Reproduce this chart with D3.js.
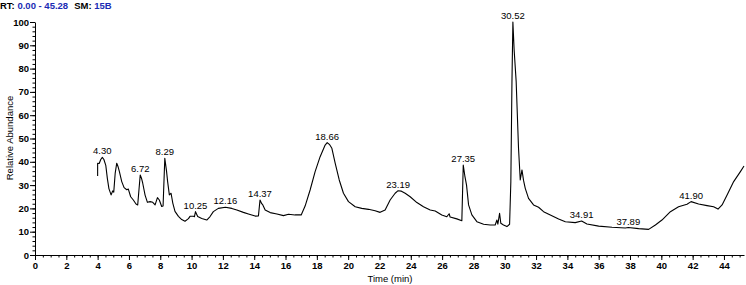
<!DOCTYPE html>
<html>
<head>
<meta charset="utf-8">
<script src="https://cdn.jsdelivr.net/npm/d3@7"></script>
<style>
  body { margin: 0; background: #fff; }
  svg { display: block; font-family: "Liberation Sans", Arial, sans-serif; }
  .axis path, .axis line { stroke: #000; stroke-width: 1; }
  .axis text { font-size: 9.5px; font-weight: bold; fill: #000; }
</style>
</head>
<body>
<svg width="746" height="285"></svg>
<script>
// retention time (min) and relative abundance
var time = [4.00, 4.00, 4.10, 4.20, 4.30, 4.40, 4.52, 4.62, 4.72, 4.86, 4.96, 5.03, 5.12, 5.22, 5.30,
  5.39, 5.54, 5.69, 5.86, 5.96, 6.11, 6.28, 6.45, 6.56, 6.64, 6.72, 6.80, 6.88, 7.03, 7.18, 7.35,
  7.52, 7.67, 7.82, 7.94, 8.09, 8.18, 8.29, 8.40, 8.47, 8.58, 8.69, 8.80, 8.94, 9.16, 9.37, 9.58,
  9.80, 9.90, 10.12, 10.18, 10.25, 10.39, 10.65, 10.97, 11.18, 11.39, 11.71, 12.16, 12.57, 12.89,
  13.31, 13.63, 14.06, 14.27, 14.37, 14.48, 14.55, 14.70, 15.02, 15.45, 15.87, 16.19, 16.61, 17.00,
  17.25, 17.57, 17.89, 18.21, 18.53, 18.66, 18.80, 18.96, 19.17, 19.43, 19.70, 20.02, 20.45, 20.87,
  21.30, 21.72, 22.04, 22.36, 22.68, 23.00, 23.19, 23.40, 23.64, 23.96, 24.39, 24.81, 25.24, 25.56,
  25.98, 26.30, 26.45, 26.51, 26.94, 27.26, 27.35, 27.45, 27.56, 27.69, 27.90, 28.22, 28.65, 29.07,
  29.39, 29.50, 29.56, 29.67, 29.75, 29.92, 30.14, 30.31, 30.39, 30.46, 30.52, 30.60, 30.73, 30.88,
  30.99, 31.10, 31.20, 31.31, 31.52, 31.84, 32.16, 32.48, 32.91, 33.44, 33.87, 34.50, 34.91, 35.25,
  36.00, 36.85, 37.70, 37.89, 38.55, 39.19, 39.62, 40.04, 40.58, 41.10, 41.64, 41.90, 42.38, 42.92,
  43.34, 43.62, 43.88, 44.20, 44.62, 45.05, 45.28];
var abundance = [33.9, 39.4, 39.3, 41.0, 41.9, 41.0, 38.5, 32.9, 28.5, 25.8, 27.5, 27.0, 35.0, 39.4, 38.0,
  35.8, 31.5, 28.9, 28.0, 28.3, 25.0, 23.6, 21.9, 21.5, 28.0, 34.3, 33.0, 30.8, 25.7, 22.6, 22.9,
  22.6, 21.5, 24.6, 23.6, 20.8, 21.0, 41.5, 36.0, 31.5, 25.8, 26.5, 22.3, 18.7, 16.6, 15.2, 14.5,
  15.6, 16.6, 16.6, 16.4, 18.6, 16.5, 15.7, 15.0, 16.5, 18.6, 20.0, 20.5, 20.0, 19.3,
  18.3, 17.6, 16.7, 16.8, 23.6, 22.0, 21.5, 19.3, 18.2, 17.6, 16.9, 17.5, 17.2, 17.2,
  21.0, 27.9, 35.8, 42.2, 47.2, 48.2, 47.5, 45.8, 39.4, 32.2, 26.5, 22.9, 20.7, 20.0,
  19.6, 19.0, 18.3, 19.3, 23.6, 26.5, 27.6, 27.4, 26.5, 25.0, 22.5, 20.7, 19.3, 18.9,
  17.2, 16.4, 17.7, 16.3, 15.5, 14.7, 38.6, 34.0, 30.0, 21.5, 17.2, 14.3, 13.2, 12.9,
  12.9, 15.0, 13.2, 17.9, 13.6, 12.9, 12.2, 13.2, 31.5, 74.0, 100, 88.0, 74.4, 45.8,
  32.2, 36.5, 32.0, 28.6, 24.3, 21.5, 20.5, 18.6, 17.2, 15.5, 14.3, 13.9, 14.6, 13.3,
  12.4, 11.9, 11.6, 11.8, 11.3, 11.0, 12.9, 15.0, 18.6, 20.7, 21.8, 22.9, 21.9, 21.2,
  20.7, 19.7, 21.5, 25.8, 31.5, 35.8, 38.2];
var peakLabels = ["4.30", "6.72", "8.29", "10.25", "12.16", "14.37", "18.66", "23.19", "27.35",
  "30.52", "34.91", "37.89", "41.90"];
var xTicks = d3.range(0, 45, 2);
var yTicks = d3.range(0, 101, 10);

var svg = d3.select("svg");
var x = d3.scaleLinear().domain([0, 45.28]).range([35, 744]);
var y = d3.scaleLinear().domain([0, 100]).range([255, 22]);

// minor ticks first, majors drawn on top
svg.append("g").attr("class", "axis")
    .attr("transform", "translate(0,255)")
    .call(d3.axisBottom(x).tickValues(d3.range(0, 45.28, 0.5)).tickSize(2.5).tickFormat(""))
    .select(".domain").remove();
svg.append("g").attr("class", "axis")
    .attr("transform", "translate(35,0)")
    .call(d3.axisLeft(y).tickValues(d3.range(0, 101, 2)).tickSize(2.5).tickFormat(""))
    .select(".domain").remove();

svg.append("g").attr("class", "axis")
    .attr("transform", "translate(0,255)")
    .call(d3.axisBottom(x).tickValues(xTicks).tickSize(5).tickSizeOuter(0).tickPadding(2).tickFormat(d3.format("d")));
svg.append("g").attr("class", "axis")
    .attr("transform", "translate(35,0)")
    .call(d3.axisLeft(y).tickValues(yTicks).tickSize(5).tickSizeOuter(0).tickPadding(1).tickFormat(d3.format("d")));

var pts = time.map((t, i) => [t, abundance[i]]);
svg.append("path")
    .datum(pts)
    .attr("fill", "none")
    .attr("stroke", "#000")
    .attr("stroke-width", 1.1)
    .attr("stroke-linejoin", "round")
    .attr("d", d3.line().x(d => x(d[0])).y(d => y(d[1])));

// peak labels sit just above the point with that retention time
svg.append("g").selectAll("text")
    .data(peakLabels)
    .enter().append("text")
    .attr("x", d => x(+d))
    .attr("y", d => {
      var i = d3.minIndex(time, t => Math.abs(t - +d));
      return y(abundance[i]) - 3;
    })
    .attr("text-anchor", "middle")
    .attr("font-size", "9.5px")
    .text(d => d);

// header line
var hdr = svg.append("text").attr("x", 0).attr("y", 9).attr("font-size", "9.5px").attr("font-weight", "bold");
hdr.append("tspan").attr("fill", "#000").text("RT: ");
hdr.append("tspan").attr("fill", "#1a2cb4").text("0.00 - 45.28");
hdr.append("tspan").attr("fill", "#000").attr("dx", 6).text("SM: ");
hdr.append("tspan").attr("fill", "#1a2cb4").text("15B");

svg.append("text")
    .attr("transform", "translate(13,138) rotate(-90)")
    .attr("text-anchor", "middle")
    .attr("font-size", "9.5px")
    .text("Relative Abundance");

svg.append("text")
    .attr("x", 390).attr("y", 282)
    .attr("text-anchor", "middle")
    .attr("font-size", "9.5px")
    .text("Time (min)");
</script>
</body>
</html>
